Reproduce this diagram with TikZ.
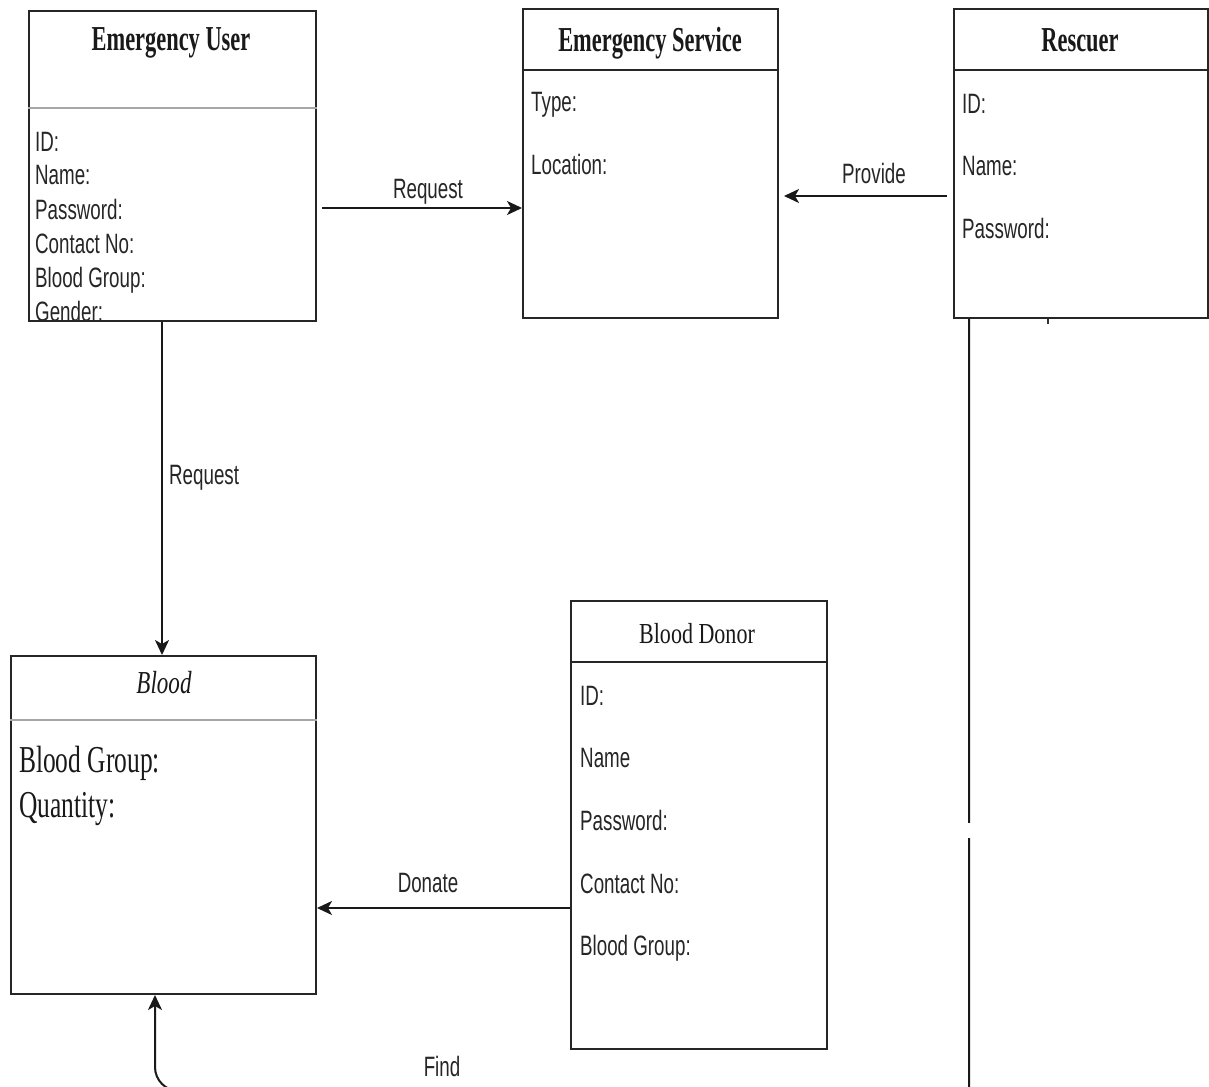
\documentclass[tikz,border=0pt]{standalone}
\usepackage{graphicx}
\usepackage{fontspec}
\setmainfont{Liberation Serif}
\setsansfont{Liberation Sans}
\usetikzlibrary{arrows.meta}

% narrow (condensed) rendering of a piece of text
\newcommand{\sqz}[2][0.67]{\scalebox{#1}[1]{#2}}

\begin{document}
\begin{tikzpicture}[x=1pt,y=-1pt,
  umlbox/.style={draw=black!85, line width=2pt, anchor=north west, inner sep=0pt},
  divider/.style={line width=2pt, draw=black!85},
  softdiv/.style={line width=2pt, draw=black!35},
  attr/.style={anchor=base west, inner sep=0pt, text=black!85,
    font=\sffamily\fontsize{28}{34}\selectfont},
  bigattr/.style={anchor=base west, inner sep=0pt, text=black!90,
    font=\rmfamily\fontsize{38}{45}\selectfont},
  title/.style={anchor=base, inner sep=0pt, text=black!90,
    font=\rmfamily\bfseries\fontsize{35}{40}\selectfont},
  lbl/.style={anchor=base, inner sep=0pt, text=black!85,
    font=\sffamily\fontsize{28}{34}\selectfont},
  conn/.style={line width=2pt, draw=black!90, -{Stealth[length=15pt,width=14pt,inset=4pt]}}
]
\path[use as bounding box] (0,0) rectangle (1209,1086);
\clip (0,0) rectangle (1209,1086);
\fill[white] (0,0) rectangle (1209,1086);

% ---------------- class boxes ----------------
\node[umlbox, minimum width=287pt, minimum height=310pt] (eu) at (28,10) {};
\node[umlbox, minimum width=255pt, minimum height=309pt] (es) at (522,8) {};
\node[umlbox, minimum width=254pt, minimum height=309pt] (rs) at (953,8) {};
\node[umlbox, minimum width=305pt, minimum height=338pt] (bl) at (10,655) {};
\node[umlbox, minimum width=256pt, minimum height=448pt] (bd) at (570,600) {};

% helper rows / columns
\coordinate (yEU) at (0,108);
\coordinate (yES) at (0,70);
\coordinate (yBL) at (0,720);
\coordinate (yBD) at (0,662);

\draw[softdiv] (eu.west |- yEU) -- (eu.east |- yEU);
\draw[divider] (es.west |- yES) -- (es.east |- yES);
\draw[divider] (rs.west |- yES) -- (rs.east |- yES);
\draw[softdiv] (bl.west |- yBL) -- (bl.east |- yBL);
\draw[divider] (bd.west |- yBD) -- (bd.east |- yBD);

% ---------------- titles ----------------
\node[title] (eut) at (171,51) {\sqz[0.64]{Emergency User}};
\node[title] (est) at (650,52) {\sqz[0.64]{Emergency Service}};
\node[title] (rst) at (1080,52) {\sqz[0.64]{Rescuer}};
\node[title, font=\rmfamily\itshape\fontsize{32}{38}\selectfont] (blt) at (164,693) {\sqz[0.72]{Blood}};
\node[title, font=\rmfamily\fontsize{29}{35}\selectfont] (bdt) at (697,643) {\sqz[0.76]{Blood Donor}};

% ---------------- attributes ----------------
\begin{scope}
  \clip (eu.north west) rectangle ([yshift=1pt]eu.south east);
  \node[attr] (eu1) at (35,152) {\sqz{ID:}};
  \node[attr] (eu2) at (35,185) {\sqz{Name:}};
  \node[attr] (eu3) at (35,219) {\sqz{Password:}};
  \node[attr] (eu4) at (35,253) {\sqz{Contact No:}};
  \node[attr] (eu5) at (35,287) {\sqz{Blood Group:}};
  \node[attr] (eu6) at (35,321) {\sqz{Gender:}};
\end{scope}

\node[attr] (es1) at (531,112) {\sqz{Type:}};
\node[attr] (es2) at (531,175) {\sqz{Location:}};

\node[attr] (rs1) at (962,114) {\sqz{ID:}};
\node[attr] (rs2) at (962,176) {\sqz{Name:}};
\node[attr] (rs3) at (962,238) {\sqz{Password:}};

\node[bigattr] (bl1) at (19,772) {\sqz{Blood Group:}};
\node[bigattr] (bl2) at (19,817) {\sqz{Quantity:}};

\node[attr] (bd1) at (580,705) {\sqz{ID:}};
\node[attr] (bd2) at (580,767) {\sqz{Name}};
\node[attr] (bd3) at (580,830) {\sqz{Password:}};
\node[attr] (bd4) at (580,893) {\sqz{Contact No:}};
\node[attr] (bd5) at (580,955) {\sqz{Blood Group:}};

% ---------------- connectors ----------------
\coordinate (rReq) at (0,208);
\coordinate (rProv) at (0,196);
\coordinate (cReq) at (162,0);
\coordinate (rDon) at (0,908);
\coordinate (cFindA) at (969,0);
\coordinate (cFindB) at (155,0);
\coordinate (cFindC) at (969,1091);
\coordinate (cFindD) at (155,1091);
\coordinate (cTick) at (1048,0);

\draw[conn, shorten <=5pt] (eu.east |- rReq) -- (es.west |- rReq);
\draw[conn, shorten >=5pt] ([xshift=-6pt]rs.west |- rProv) -- (es.east |- rProv);
\draw[conn] (eu.south -| cReq) -- (bl.north -| cReq);
\draw[conn] (bd.west |- rDon) -- (bl.east |- rDon);
% the run below the picture: sharp turn on the right, rounded on the left
\draw[conn] (rs.south -| cFindA) -- (cFindC) [rounded corners=24pt] -- (cFindD) -- (bl.south -| cFindB);
\draw[line width=1.5pt, draw=black!80] (rs.south -| cTick) -- ++(0,5);
% small break in the long vertical run
\fill[white] (958,823) rectangle (982,838);

% ---------------- connector labels ----------------
\node[lbl] (lReq) at (428,199) {\sqz{Request}};
\node[lbl] (lProv) at (874,183) {\sqz{Provide}};
\node[lbl, anchor=base west] (lReq2) at (169,484) {\sqz{Request}};
\node[lbl] (lDon) at (428,892) {\sqz{Donate}};
\node[lbl] (lFind) at (442,1076) {\sqz{Find}};
\end{tikzpicture}
\end{document}
